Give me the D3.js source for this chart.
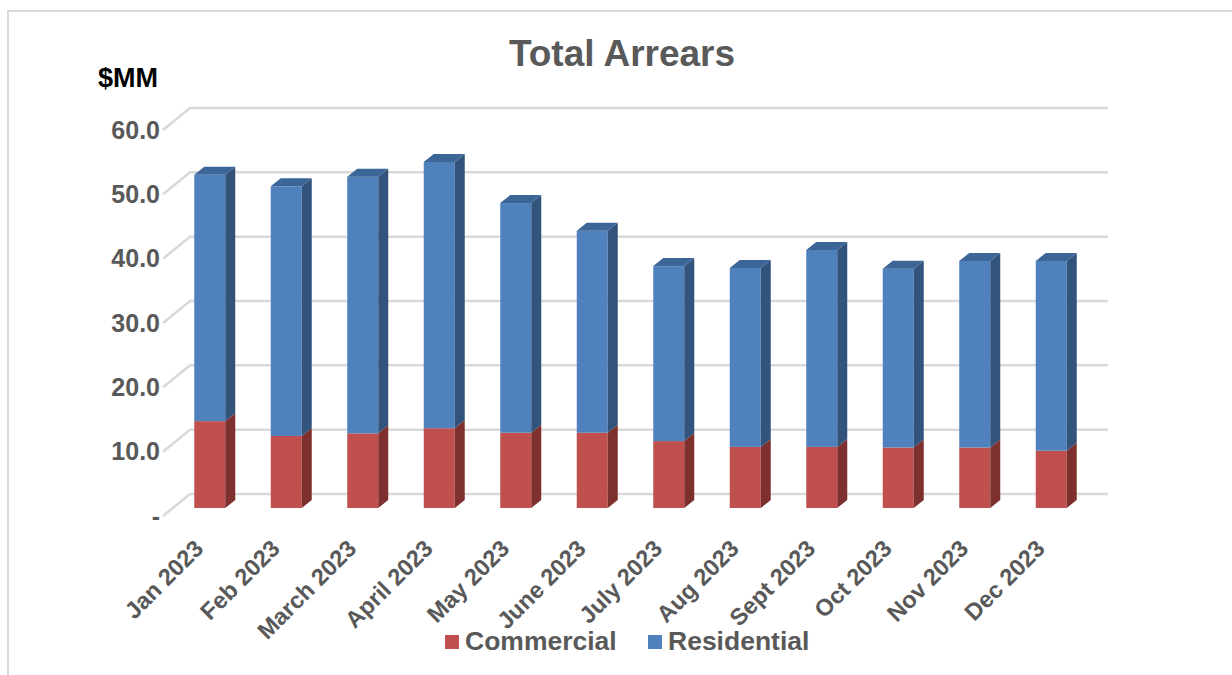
<!DOCTYPE html>
<html>
<head>
<meta charset="utf-8">
<script src="https://cdn.jsdelivr.net/npm/d3@7"></script>
<style>
  body { margin: 0; background: #fff; }
  text { font-family: "Liberation Sans", Arial, sans-serif; font-weight: bold; }
</style>
</head>
<body>
<div id="chart"></div>
<script>
var months = ["Jan 2023", "Feb 2023", "March 2023", "April 2023", "May 2023", "June 2023",
  "July 2023", "Aug 2023", "Sept 2023", "Oct 2023", "Nov 2023", "Dec 2023"];
var commercial = [13.5, 11.2, 11.6, 12.4, 11.7, 11.7, 10.4, 9.5, 9.5, 9.4, 9.4, 8.9];
var residential = [38.3, 38.8, 39.9, 41.4, 35.7, 31.4, 27.2, 27.8, 30.6, 27.8, 29.0, 29.5];
var yTicks = [0, 10, 20, 30, 40, 50, 60];
var seriesNames = ["Commercial", "Residential"];
var colors = {
  Commercial: { front: "#C0504D", side: "#7D302E", top: "#9E3F3C" },
  Residential: { front: "#4F81BD", side: "#32537C", top: "#3D6698" }
};

var width = 1232, height = 675;
var svg = d3.select("#chart").append("svg")
  .attr("width", width)
  .attr("height", height);

// frame
svg.append("path")
  .attr("d", "M8,675 V11 H1232")
  .attr("fill", "none")
  .attr("stroke", "#d9d9d9")
  .attr("stroke-width", 2);

// back wall of the 3d plot
var x = d3.scaleBand().domain(months).range([190, 1108]).paddingInner(0).paddingOuter(0);
var y = d3.scaleLinear().domain([0, 60]).range([494, 108]);
var depthX = 27, depthY = 22;   // floor depth
var shiftX = -18.5, shiftY = 14;  // bar front offset from back wall
var barW = 31, barDX = 10, barDY = 8;

var grid = svg.append("g").attr("class", "grid");
grid.selectAll("path")
  .data(yTicks)
  .enter().append("path")
  .attr("d", function (t) {
    var yy = y(t);
    return "M" + (190 - depthX) + "," + (yy + depthY) + " L190," + yy + " H1108";
  })
  .attr("fill", "none")
  .attr("stroke", "#d9d9d9")
  .attr("stroke-width", 2.5);

svg.append("g").selectAll("text")
  .data(yTicks)
  .enter().append("text")
  .attr("x", 160)
  .attr("y", function (t) { return y(t) + depthY; })
  .attr("dy", "0.35em")
  .attr("text-anchor", "end")
  .attr("font-size", 25)
  .attr("fill", "#595959")
  .text(function (t) { return t === 0 ? "-" : d3.format(".1f")(t); });

svg.append("text")
  .attr("x", 98).attr("y", 87)
  .attr("font-size", 27)
  .attr("fill", "#000")
  .text("$MM");

svg.append("text")
  .attr("x", 622).attr("y", 66)
  .attr("text-anchor", "middle")
  .attr("font-size", 37)
  .attr("fill", "#595959")
  .text("Total Arrears");

// stacked bars
var rows = months.map(function (m, i) {
  return { month: m, Commercial: commercial[i], Residential: residential[i] };
});
var stacked = d3.stack().keys(seriesNames)(rows);

var bars = svg.append("g").attr("class", "bars");
stacked.forEach(function (layer, li) {
  var c = colors[layer.key];
  var g = bars.append("g").attr("class", layer.key);
  layer.forEach(function (d) {
    var x0 = x(d.data.month) + x.bandwidth() / 2 + shiftX - barW / 2;
    var x1 = x0 + barW;
    var yTop = y(d[1]) + shiftY;
    var yBot = y(d[0]) + shiftY;
    g.append("rect")
      .attr("x", x0).attr("y", yTop)
      .attr("width", barW).attr("height", yBot - yTop)
      .attr("fill", c.front);
    g.append("path")
      .attr("d", "M" + x1 + "," + yBot + " L" + (x1 + barDX) + "," + (yBot - barDY) +
        " L" + (x1 + barDX) + "," + (yTop - barDY) + " L" + x1 + "," + yTop + "Z")
      .attr("fill", c.side);
    if (li === stacked.length - 1) {
      g.append("path")
        .attr("d", "M" + x0 + "," + yTop + " L" + (x0 + barDX) + "," + (yTop - barDY) +
          " L" + (x1 + barDX) + "," + (yTop - barDY) + " L" + x1 + "," + yTop + "Z")
        .attr("fill", c.top);
    }
  });
});

// x labels
svg.append("g").selectAll("text")
  .data(months)
  .enter().append("text")
  .attr("transform", function (m) {
    var cx = x(m) + x.bandwidth() / 2 + shiftX - 5;
    return "translate(" + cx + ",550) rotate(-45)";
  })
  .attr("text-anchor", "end")
  .attr("font-size", 23.5)
  .attr("fill", "#595959")
  .text(function (m) { return m; });

// legend
var legendX = [445, 648];
var legend = svg.append("g").selectAll("g")
  .data(seriesNames)
  .enter().append("g")
  .attr("transform", function (s, i) { return "translate(" + legendX[i] + ",635)"; });
legend.append("rect")
  .attr("width", 14).attr("height", 14)
  .attr("fill", function (s) { return colors[s].front; });
legend.append("text")
  .attr("x", 20).attr("y", 15)
  .attr("font-size", 26.5)
  .attr("fill", "#595959")
  .text(function (s) { return s; });
</script>
</body>
</html>
